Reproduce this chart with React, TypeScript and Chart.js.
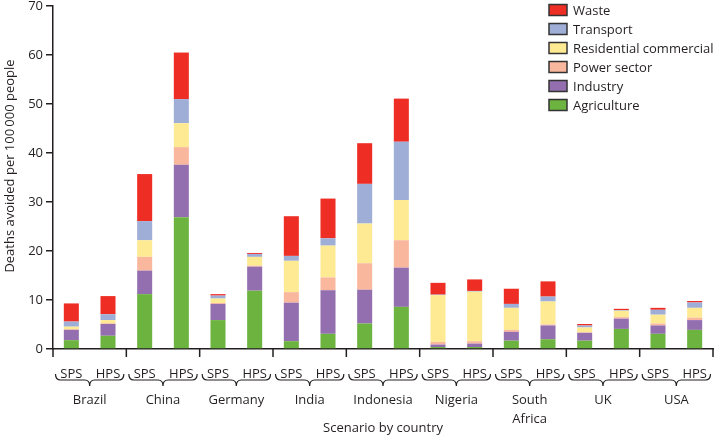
import React, { useEffect, useRef } from "react";
import { Chart, registerables } from "chart.js";

Chart.register(...registerables);

const countries = ["Brazil", "China", "Germany", "India", "Indonesia", "Nigeria", "South Africa", "UK", "USA"];
const countryLines = [["Brazil"], ["China"], ["Germany"], ["India"], ["Indonesia"], ["Nigeria"], ["South", "Africa"], ["UK"], ["USA"]];
const scenarios = ["SPS", "HPS"];
const barLabels = countries.flatMap(() => scenarios);

const agriculture = [1.8, 2.7, 11.2, 26.9, 5.9, 11.9, 1.6, 3.1, 5.2, 8.6, 0.4, 0.4, 1.7, 2.0, 1.7, 4.1, 3.1, 3.9];
const industry = [2.1, 2.4, 4.8, 10.7, 3.3, 4.9, 7.85, 8.9, 6.9, 8.0, 0.5, 0.7, 1.8, 2.8, 1.6, 2.1, 1.7, 2.0];
const powerSector = [0.15, 0.15, 2.8, 3.6, 0.2, 0.2, 2.15, 2.6, 5.4, 5.6, 0.55, 0.5, 0.4, 0.2, 0.1, 0.3, 0.4, 0.5];
const residential = [0.5, 0.65, 3.4, 4.9, 0.9, 1.8, 6.4, 6.5, 8.1, 8.2, 9.55, 10.1, 4.5, 4.7, 1.0, 1.3, 1.8, 2.0];
const transport = [1.05, 1.2, 3.9, 4.9, 0.6, 0.6, 1.0, 1.5, 8.1, 11.9, 0.1, 0.15, 0.8, 1.0, 0.4, 0.15, 1.0, 1.1];
const waste = [3.7, 3.7, 9.6, 9.5, 0.3, 0.2, 8.1, 8.1, 8.3, 8.8, 2.4, 2.35, 3.1, 3.1, 0.3, 0.25, 0.4, 0.3];

const yTicks = [0, 10, 20, 30, 40, 50, 60, 70];
const yTitle = "Deaths avoided per 100\u2009000 people";
const xTitle = "Scenario by country";

const series = [
  { label: "Agriculture", data: agriculture, color: "#6db33f" },
  { label: "Industry", data: industry, color: "#946fb0" },
  { label: "Power sector", data: powerSector, color: "#f9b79d" },
  { label: "Residential commercial", data: residential, color: "#ffea94" },
  { label: "Transport", data: transport, color: "#9faed6" },
  { label: "Waste", data: waste, color: "#ee2d24" },
];

const FONT = '"Open Sans", sans-serif';
const INK = "#231f20";

const decorPlugin = {
  id: "decor",
  afterDraw(chart: any) {
    const { ctx, chartArea } = chart;
    const xs = chart.scales.x;
    const bottom = chartArea.bottom;
    const bounds: number[] = [];
    for (let i = 0; i <= countries.length; i++) {
      if (i === 0) bounds.push(chartArea.left);
      else if (i === countries.length) bounds.push(chartArea.right);
      else bounds.push((xs.getPixelForValue(2 * i - 1) + xs.getPixelForValue(2 * i)) / 2);
    }
    ctx.save();
    ctx.strokeStyle = INK;
    ctx.lineWidth = 1.5;
    bounds.forEach((x) => {
      ctx.beginPath();
      ctx.moveTo(x, bottom);
      ctx.lineTo(x, bottom + 8);
      ctx.stroke();
    });
    // braces
    ctx.lineWidth = 1.2;
    const y0 = bottom + 25;
    const ym = bottom + 31;
    const yt = bottom + 37;
    const r = 5;
    for (let g = 0; g < countries.length; g++) {
      const x1 = bounds[g] + 2.5;
      const x2 = bounds[g + 1] - 2.5;
      const mx = (x1 + x2) / 2;
      ctx.beginPath();
      ctx.moveTo(x1, y0);
      ctx.quadraticCurveTo(x1, ym, x1 + r, ym);
      ctx.lineTo(mx - r, ym);
      ctx.quadraticCurveTo(mx, ym, mx, yt);
      ctx.quadraticCurveTo(mx, ym, mx + r, ym);
      ctx.lineTo(x2 - r, ym);
      ctx.quadraticCurveTo(x2, ym, x2, y0);
      ctx.stroke();
    }
    // country names
    ctx.fillStyle = INK;
    ctx.font = `13px ${FONT}`;
    ctx.textAlign = "center";
    ctx.textBaseline = "middle";
    countryLines.forEach((lines, g) => {
      const cx = (bounds[g] + bounds[g + 1]) / 2;
      lines.forEach((t, k) => ctx.fillText(t, cx, bottom + 51 + k * 19));
    });
    // x title
    ctx.fillText(xTitle, (chartArea.left + chartArea.right) / 2, bottom + 79);
    // y title
    ctx.save();
    ctx.translate(10, 166);
    ctx.rotate(-Math.PI / 2);
    ctx.fillText(yTitle, 0, 0);
    ctx.restore();
    // legend
    const legendItems = [...series].reverse();
    legendItems.forEach((s, i) => {
      const cy = 10 + i * 19;
      ctx.fillStyle = s.color;
      ctx.fillRect(549, cy - 5.5, 18, 11);
      ctx.strokeStyle = "#333";
      ctx.lineWidth = 1.5;
      ctx.strokeRect(549, cy - 5.5, 18, 11);
      ctx.fillStyle = INK;
      ctx.textAlign = "left";
      ctx.fillText(s.label, 573, cy + 1);
    });
    ctx.restore();
  },
};

export default function App() {
  const ref = useRef<HTMLCanvasElement | null>(null);
  useEffect(() => {
    if (!ref.current) return;
    const chart = new Chart(ref.current, {
      type: "bar",
      data: {
        labels: barLabels,
        datasets: series.map((s) => ({
          label: s.label,
          data: s.data,
          backgroundColor: s.color,
          borderWidth: 0,
          barPercentage: 0.41,
          categoryPercentage: 1,
        })),
      },
      options: {
        responsive: false,
        animation: false,
        layout: { padding: { top: 6, right: 1, left: 0, bottom: 0 } },
        plugins: { legend: { display: false }, tooltip: { enabled: false } },
        scales: {
          x: {
            stacked: true,
            grid: { display: false },
            border: { display: true, color: INK, width: 1.5 },
            ticks: { color: INK, font: { family: FONT, size: 13 }, padding: 9, maxRotation: 0, autoSkip: false },
            afterFit: (scale: any) => {
              scale.height = 89;
              scale.paddingLeft = 0;
              scale.paddingRight = 0;
            },
          },
          y: {
            stacked: true,
            min: 0,
            max: 70,
            afterBuildTicks: (scale: any) => {
              scale.ticks = yTicks.map((v) => ({ value: v }));
            },
            grid: { drawOnChartArea: false, drawTicks: true, tickLength: 7, color: INK, lineWidth: 1.5 },
            border: { display: true, color: INK, width: 1.5 },
            ticks: { color: INK, font: { family: FONT, size: 13 }, padding: 3 },
            afterFit: (scale: any) => {
              scale.width = 53;
              scale.paddingTop = 0;
              scale.paddingBottom = 0;
            },
          },
        },
      },
      plugins: [decorPlugin],
    });
    return () => chart.destroy();
  }, []);
  return (
    <div style={{ position: "fixed", left: 0, top: 0, width: 714, height: 438, background: "#fff" }}>
      <canvas ref={ref} width={714} height={438} style={{ display: "block" }} />
    </div>
  );
}
